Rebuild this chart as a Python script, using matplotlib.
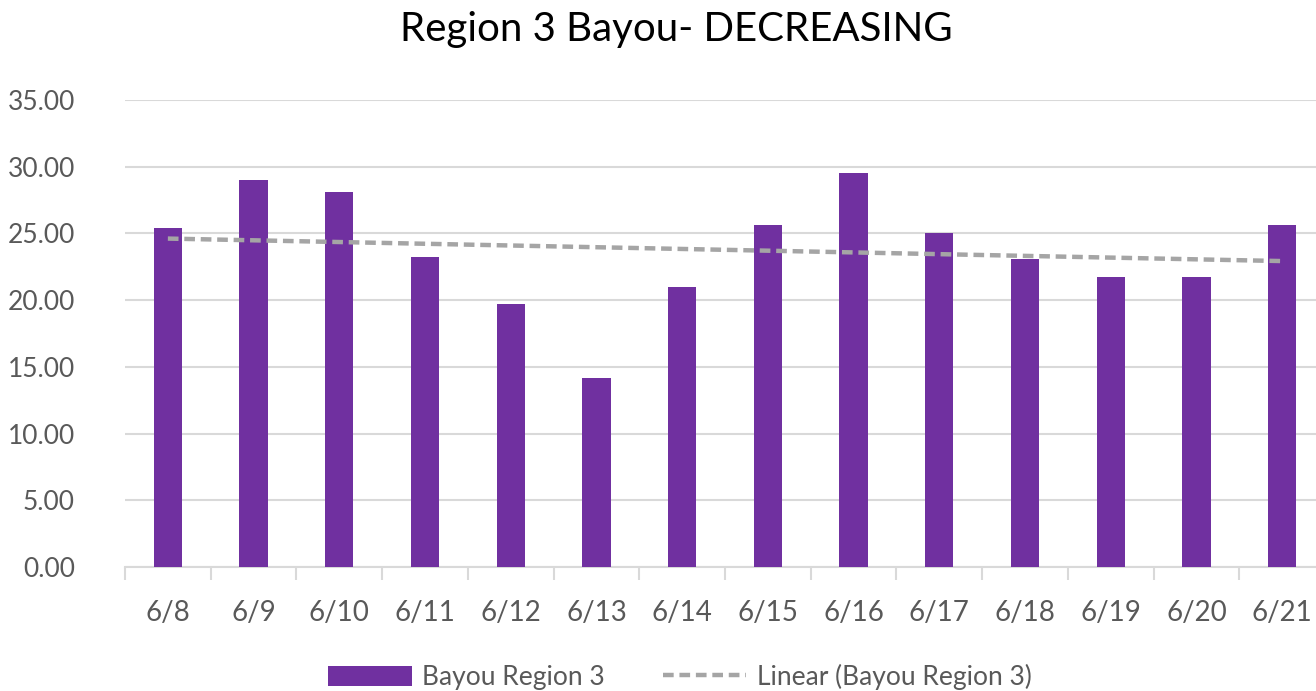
import numpy as np
import matplotlib.pyplot as plt
from matplotlib.ticker import FixedLocator, FuncFormatter

# data
dates = ["6/8", "6/9", "6/10", "6/11", "6/12", "6/13", "6/14",
         "6/15", "6/16", "6/17", "6/18", "6/19", "6/20", "6/21"]
bayou = [25.4, 29.0, 28.1, 23.2, 19.7, 14.2, 21.0,
         25.6, 29.5, 25.0, 23.1, 21.7, 21.7, 25.6]
yticks = [0, 5, 10, 15, 20, 25, 30, 35]

purple = "#7030A0"
grid_c = "#D9D9D9"
text_c = "#595959"
font = ["Lato", "DejaVu Sans"]

plt.rcParams['font.family'] = font

fig = plt.figure(figsize=(13.16, 6.91), dpi=100)
# plot area runs a little past the right edge, like the reference
ax = fig.add_axes([125 / 1316, 124 / 691, 1200 / 1316, 467 / 691])

x = np.arange(len(dates))
ax.bar(x, bayou, width=0.33, color=purple, zorder=3, label="Bayou Region 3")

# linear trendline
k, b = np.polyfit(x, bayou, 1)
ax.plot(x, k * x + b, color="#A5A5A5", lw=3.2, ls=(0, (2.4, 1.3)), zorder=4,
        label="Linear (Bayou Region 3)")

ax.set_xlim(-0.5, len(dates) - 0.5)
ax.set_ylim(0, 35)
ax.set_yticks(yticks)
ax.yaxis.set_major_formatter(FuncFormatter(lambda v, p: f"{v:.2f}"))
ax.grid(axis="y", color=grid_c, lw=1.5, zorder=0)

ax.set_xticks(x)
ax.set_xticklabels(dates)
ax.xaxis.set_minor_locator(FixedLocator(np.arange(-0.5, len(dates), 1)))
ax.tick_params(axis="x", which="major", length=0, pad=24, labelsize=20, labelcolor=text_c)
ax.tick_params(axis="x", which="minor", length=9, width=1.5, color=grid_c)
ax.tick_params(axis="y", length=0, pad=36, labelsize=19, labelcolor=text_c)

for s in ["top", "right", "left"]:
    ax.spines[s].set_visible(False)
ax.spines["bottom"].set_color(grid_c)
ax.spines["bottom"].set_linewidth(1.5)

fig.text(676 / 1316, 1 - 30 / 691, "Region 3 Bayou- DECREASING",
         ha="center", va="center", fontsize=29, color="#000000")

h, l = ax.get_legend_handles_labels()
fig.legend(h[::-1], l[::-1], loc="center", bbox_to_anchor=(680 / 1316, 1 - 677 / 691),
           ncol=2, frameon=False, fontsize=19, labelcolor=text_c,
           handlelength=3.15, handleheight=0.8, columnspacing=2.2, handletextpad=0.4)

fig.savefig("out.png", dpi=100)
